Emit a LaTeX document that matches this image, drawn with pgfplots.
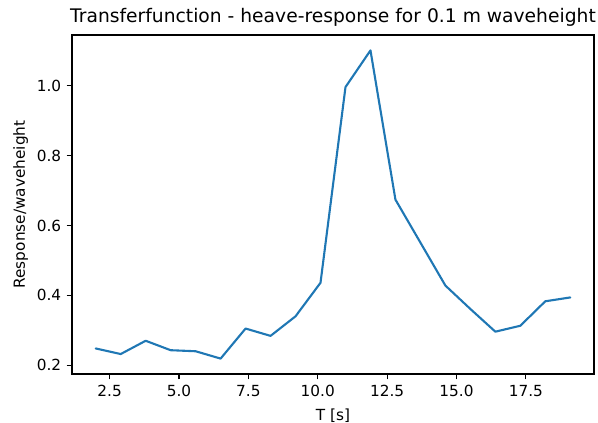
\documentclass[border=0pt]{standalone}
\usepackage{fontspec}
\setmainfont{DejaVu Sans}
\usepackage{pgfplots}
\pgfplotsset{compat=1.18}

\definecolor{mplblue}{HTML}{1F77B4}

\begin{document}
\begin{tikzpicture}[x=1pt,y=1pt]
\useasboundingbox (-72,-49) rectangle (526,374);
\begin{axis}[
  at={(0,0)}, anchor=south west,
  scale only axis, width=522pt, height=339pt,
  xmin=1.145, xmax=19.955,
  ymin=0.1749, ymax=1.1451,
  xtick={2.5,5,7.5,10,12.5,15,17.5},
  ytick={0.2,0.4,0.6,0.8,1.0},
  xtick pos=lower, ytick pos=left,
  tick align=outside,
  major tick length=5.3pt,
  every tick/.style={black, line width=1.2pt},
  axis line style={line width=1.2pt, black},
  /pgf/number format/assume math mode=true,
  /pgf/number format/fixed,
  /pgf/number format/fixed zerofill,
  /pgf/number format/precision=1,
  ticklabel style={font=\fontsize{15.3}{18}\selectfont, inner sep=0pt},
  xticklabel style={yshift=-6pt},
  yticklabel style={xshift=-5.3pt},
  title={Transferfunction - heave-response for 0.1 m waveheight},
  title style={font=\fontsize{18.7}{22}\selectfont, at={(axis description cs:0.5,1)}, anchor=base, yshift=6.5pt, inner sep=0pt},
  xlabel={T [s]},
  xlabel style={font=\fontsize{15.3}{18}\selectfont, at={(axis description cs:0.5,0)}, anchor=north, yshift=-35pt, inner sep=0pt},
  ylabel={Response/waveheight},
  ylabel style={font=\fontsize{15.3}{18}\selectfont, at={(axis description cs:-0.0985,0.5)}, anchor=center, inner sep=0pt},
]
\addplot[mplblue, line width=2.1pt, line join=round, line cap=round] coordinates {
  (2.0,0.248) (2.9,0.232) (3.8,0.270) (4.7,0.243) (5.6,0.240)
  (6.5,0.219) (7.4,0.305) (8.3,0.284) (9.2,0.340) (10.1,0.436)
  (11.0,0.996) (11.9,1.101) (12.8,0.674) (13.7,0.551) (14.6,0.428)
  (15.5,0.361) (16.4,0.296) (17.3,0.313) (18.2,0.383) (19.1,0.394)
};
\end{axis}
\end{tikzpicture}
\end{document}
